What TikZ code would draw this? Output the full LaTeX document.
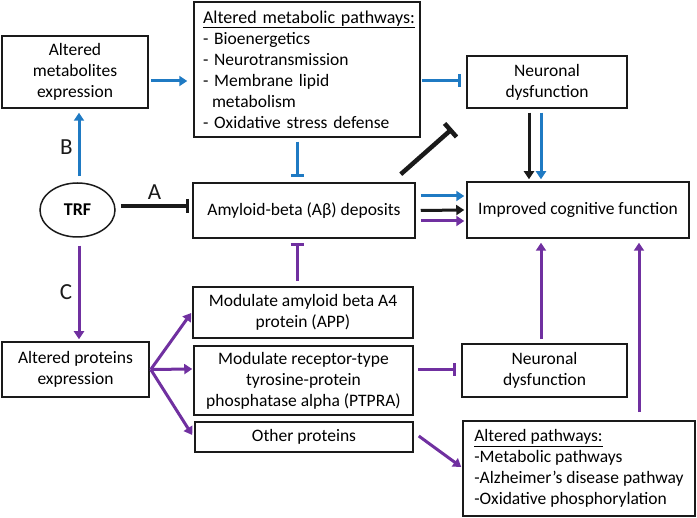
\documentclass[tikz,border=0pt]{standalone}
\usepackage{fontspec}
\setmainfont{Carlito}
\usetikzlibrary{arrows.meta,calc,shapes.geometric}
\definecolor{cblue}{HTML}{1F7AC3}
\definecolor{cpurple}{HTML}{7030A0}
\definecolor{cblack}{HTML}{1A1A1A}
\begin{document}
\begin{tikzpicture}[x=1pt,y=-1pt,
  font=\fontsize{17.5}{21}\selectfont,
  box/.style={draw=cblack, line width=1.5pt, align=center, inner sep=0pt},
  lbox/.style={box, align=left, inner xsep=10pt},
  lab/.style={font=\fontsize{23}{23}\selectfont, text=cblack, inner sep=0pt},
  arr/.style={line width=3pt, -{Triangle[width=10pt,length=8pt]}},
  tbar/.style={line width=3pt, -{Bar[width=13pt]}},
  barr/.style={arr, draw=cblue},
  parr/.style={arr, draw=cpurple},
  karr/.style={arr, draw=cblack},
  bT/.style={tbar, draw=cblue},
  pT/.style={tbar, draw=cpurple},
  kT/.style={line width=4.5pt, draw=cblack, -{Bar[width=18pt]}}
]
\useasboundingbox (0,0) rectangle (697,518);

\node[box, minimum width=146pt, minimum height=72pt] (met) at (75,72) {Altered\\metabolites\\expression};
\node[box, minimum width=226pt, minimum height=135pt, text width=208pt, align=left] (path) at (307,69.5)
  {{\fontsize{18}{21}\selectfont\underline{Altered metabolic pathways:}}\\- Bioenergetics\\- Neurotransmission\\- Membrane lipid\\\hspace*{9pt}metabolism\\- Oxidative stress defense};
\node[box, minimum width=160pt, minimum height=52pt] (neu1) at (547,82) {Neuronal\\dysfunction};
\node[draw=cblack, line width=1.5pt, ellipse, minimum width=75pt, minimum height=54pt, inner sep=0pt,
  font=\fontsize{18}{18}\selectfont\bfseries] (trf) at (77.5,210) {TRF};
\node[box, minimum width=222pt, minimum height=55pt] (amy) at (304,210.5) {Amyloid-beta (Aβ) deposits};
\node[box, minimum width=222pt, minimum height=56pt] (icf) at (578,210) {Improved cognitive function};
\node[box, minimum width=220pt, minimum height=51pt] (app) at (303,312.5) {Modulate amyloid beta A4\\protein (APP)};
\node[box, minimum width=147pt, minimum height=55pt] (ape) at (75.5,369.5) {Altered proteins\\expression};
\node[box, minimum width=219pt, minimum height=69pt] (ptp) at (303.5,380.5) {Modulate receptor-type\\tyrosine-protein\\phosphatase alpha (PTPRA)};
\node[box, minimum width=218pt, minimum height=30pt] (oth) at (304,437) {Other proteins};
\node[box, minimum width=165pt, minimum height=53pt] (neu2) at (544.5,370.5) {Neuronal\\dysfunction};
\node[lbox, minimum width=232pt, minimum height=95pt] (altp) at (579,468.5)
  {\underline{Altered pathways:}\\-Metabolic pathways\\-Alzheimer’s disease pathway\\-Oxidative phosphorylation};

\node[lab] (lB) at (66.5,147.5) {B};
\node[lab] (lA) at (154.5,192.5) {A};
\node[lab] (lC) at (66,292) {C};

% blue
\draw[barr] ($(met.east)+(2,9)$) -- ($(path.west)+(-6,11.5)$);
\draw[bT] ($(path.east)+(1,11.5)$) -- ($(neu1.west)+(-5,-1)$);
\draw[barr] ($(trf.north)+(1.5,-6)$) -- ($(met.south)+(4,4)$);
\draw[bT] ($(path.south)+(-10,4)$) -- ($(amy.north)+(-7,-5)$);
\draw[barr] ($(neu1.south)+(-6,4)$) -- ($(icf.north)+(-37,-2)$);
\draw[barr] ($(amy.east)+(5,-14.5)$) -- ($(icf.west)+(-2,-14)$);

% black
\draw[line width=3.5pt, draw=cblack, -{Bar[width=14pt]}] ($(trf.east)+(5,-4)$) -- ($(amy.west)+(-3,-4.5)$);
\draw[kT] ($(amy.north east)+(-15,-8)$) -- ($(neu1.south west)+(-14,20)$);
\draw[karr] ($(neu1.south)+(-18,4)$) -- ($(icf.north)+(-49,-2)$);
\draw[karr] ($(amy.east)+(5,0)$) -- ($(icf.west)+(-2,0)$);

% purple
\draw[parr] ($(amy.east)+(5,10.5)$) -- ($(icf.west)+(-2,11)$);
\draw[pT] ($(app.north)+(-6,-5)$) -- ($(amy.south)+(-7,4)$);
\draw[parr] ($(trf.south)+(1.5,8)$) -- ($(ape.north)+(3.5,-2)$);
\draw[parr] ($(ape.east)+(1,0)$) -- ($(app.west)+(-1,0.5)$);
\draw[parr] ($(ape.east)+(1,0)$) -- ($(ptp.west)+(-1,-11.5)$);
\draw[parr] ($(ape.east)+(1,0)$) -- ($(oth.west)+(-2,-2)$);
\draw[pT] ($(ptp.east)+(4,-10.5)$) -- ($(neu2.west)+(-5,-0.5)$);
\draw[parr] ($(neu2.north)+(-3.5,-4)$) -- ($(icf.south)+(-37,4)$);
\draw[parr] ($(altp.north)+(60,-8)$) -- ($(icf.south)+(61,4)$);
\draw[parr] ($(oth.east)+(5,-1)$) -- ($(altp.west)+(-1,-1.5)$);
\end{tikzpicture}
\end{document}
